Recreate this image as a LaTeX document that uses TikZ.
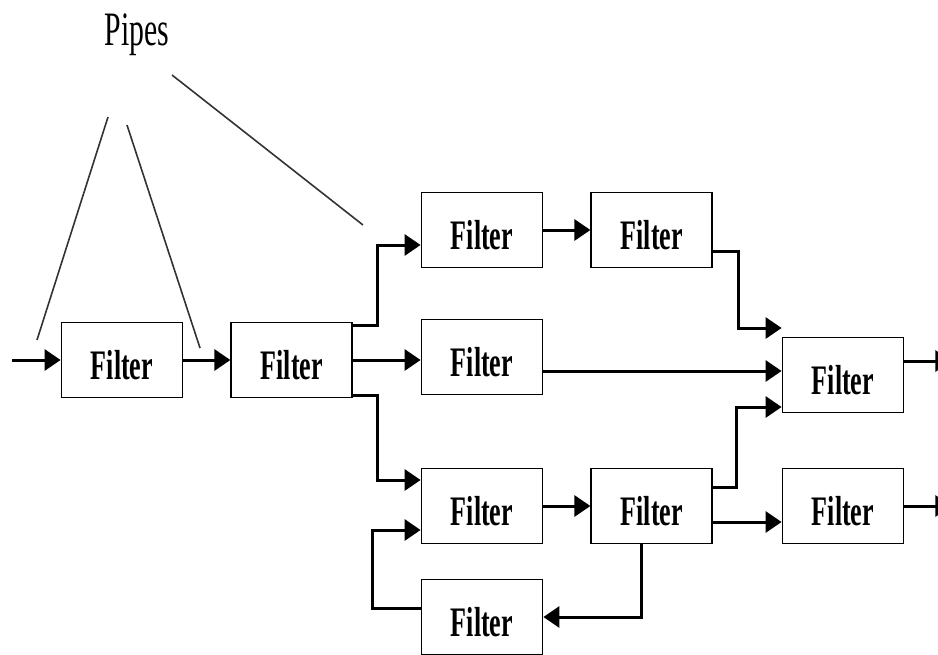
\documentclass[tikz,border=0pt]{standalone}
\usepackage{fontspec}
\setmainfont{Liberation Serif}
\newfontfamily\narrowfont{Liberation Serif}[FakeStretch=0.62]
\usetikzlibrary{positioning,arrows.meta,calc}

\begin{document}
\begin{tikzpicture}[x=1pt,y=-1pt,
  filt/.style={draw=black,line width=1.8pt,minimum width=121pt,minimum height=75pt,inner sep=0pt,
    text height=38pt,text depth=0pt,font=\narrowfont\fontsize{42}{42}\selectfont\bfseries},
  ar/.style={-{Triangle[length=16pt,width=21pt]},line width=3pt},
  pipe/.style={line width=1.6pt,draw=black!80}]
  \useasboundingbox (0,0) rectangle (938,654);
  \node[font=\narrowfont\fontsize{48}{48}\selectfont,anchor=base] (pipes) at (137,45) {Pipes};
  \node[filt] (f1) at (122,360) {Filter};
  \node[filt,right=47pt of f1] (f2) {Filter};
  \node[filt] (f3) at (482,230) {Filter};
  \node[filt,right=47pt of f3] (f4) {Filter};
  \node[filt] (f5) at (482,357) {Filter};
  \node[filt] (f6) at (843,375) {Filter};
  \node[filt] (f7) at (482,506) {Filter};
  \node[filt,right=47pt of f7] (f8) {Filter};
  \node[filt] (f9) at (843,506) {Filter};
  \node[filt] (f10) at (482,617) {Filter};
  \coordinate (src) at (12,360);
  \coordinate (o1) at ($(f6.east)+(47,-14)$);
  \coordinate (o2) at ($(f9.east)+(47,0)$);
  % pipes pointers
  \draw[pipe] (108,117) coordinate (p1) -- (37,340) coordinate (q1);
  \draw[pipe] (127,125) coordinate (p2) -- (200,348) coordinate (q2);
  \draw[pipe] (172,75) coordinate (p3) -- (363,225) coordinate (q3);
  % flow
  \draw[ar] (src) -- (f1);
  \draw[ar] (f1) -- (f2);
  \draw[ar] ([yshift=35pt]f2.east) -- ++(24,0) |- ([yshift=-15pt]f3.west);
  \draw[ar] (f2.east) -- (f2.east -| f5.west);
  \draw[ar] ([yshift=-35pt]f2.east) -- ++(24,0) |- ([yshift=26pt]f7.west);
  \draw[ar] (f3) -- (f4);
  \draw[ar] ([yshift=-21pt]f4.east) -- ++(25,0) |- ([yshift=47pt]f6.west);
  \draw[ar] ([yshift=-14pt]f5.east) -- ([yshift=-14pt]f5.east -| f6.west);
  \draw[ar] ([yshift=19pt]f8.east) -- ++(23,0) |- ([yshift=-32pt]f6.west);
  \draw[ar] (f7) -- (f8);
  \draw[ar] ([yshift=-16pt]f8.east) -- ([yshift=-16pt]f8.east -| f9.west);
  \draw[ar] ([yshift=14pt]f6.east) -- (o1);
  \draw[ar] (f9.east) -- (o2);
  \draw[ar] ([xshift=-10pt]f8.south) |- (f10.east);
  \draw[ar] ([yshift=9pt]f10.west) -- ++(-48,0) |- ([yshift=-24pt]f7.west);
\end{tikzpicture}
\end{document}
